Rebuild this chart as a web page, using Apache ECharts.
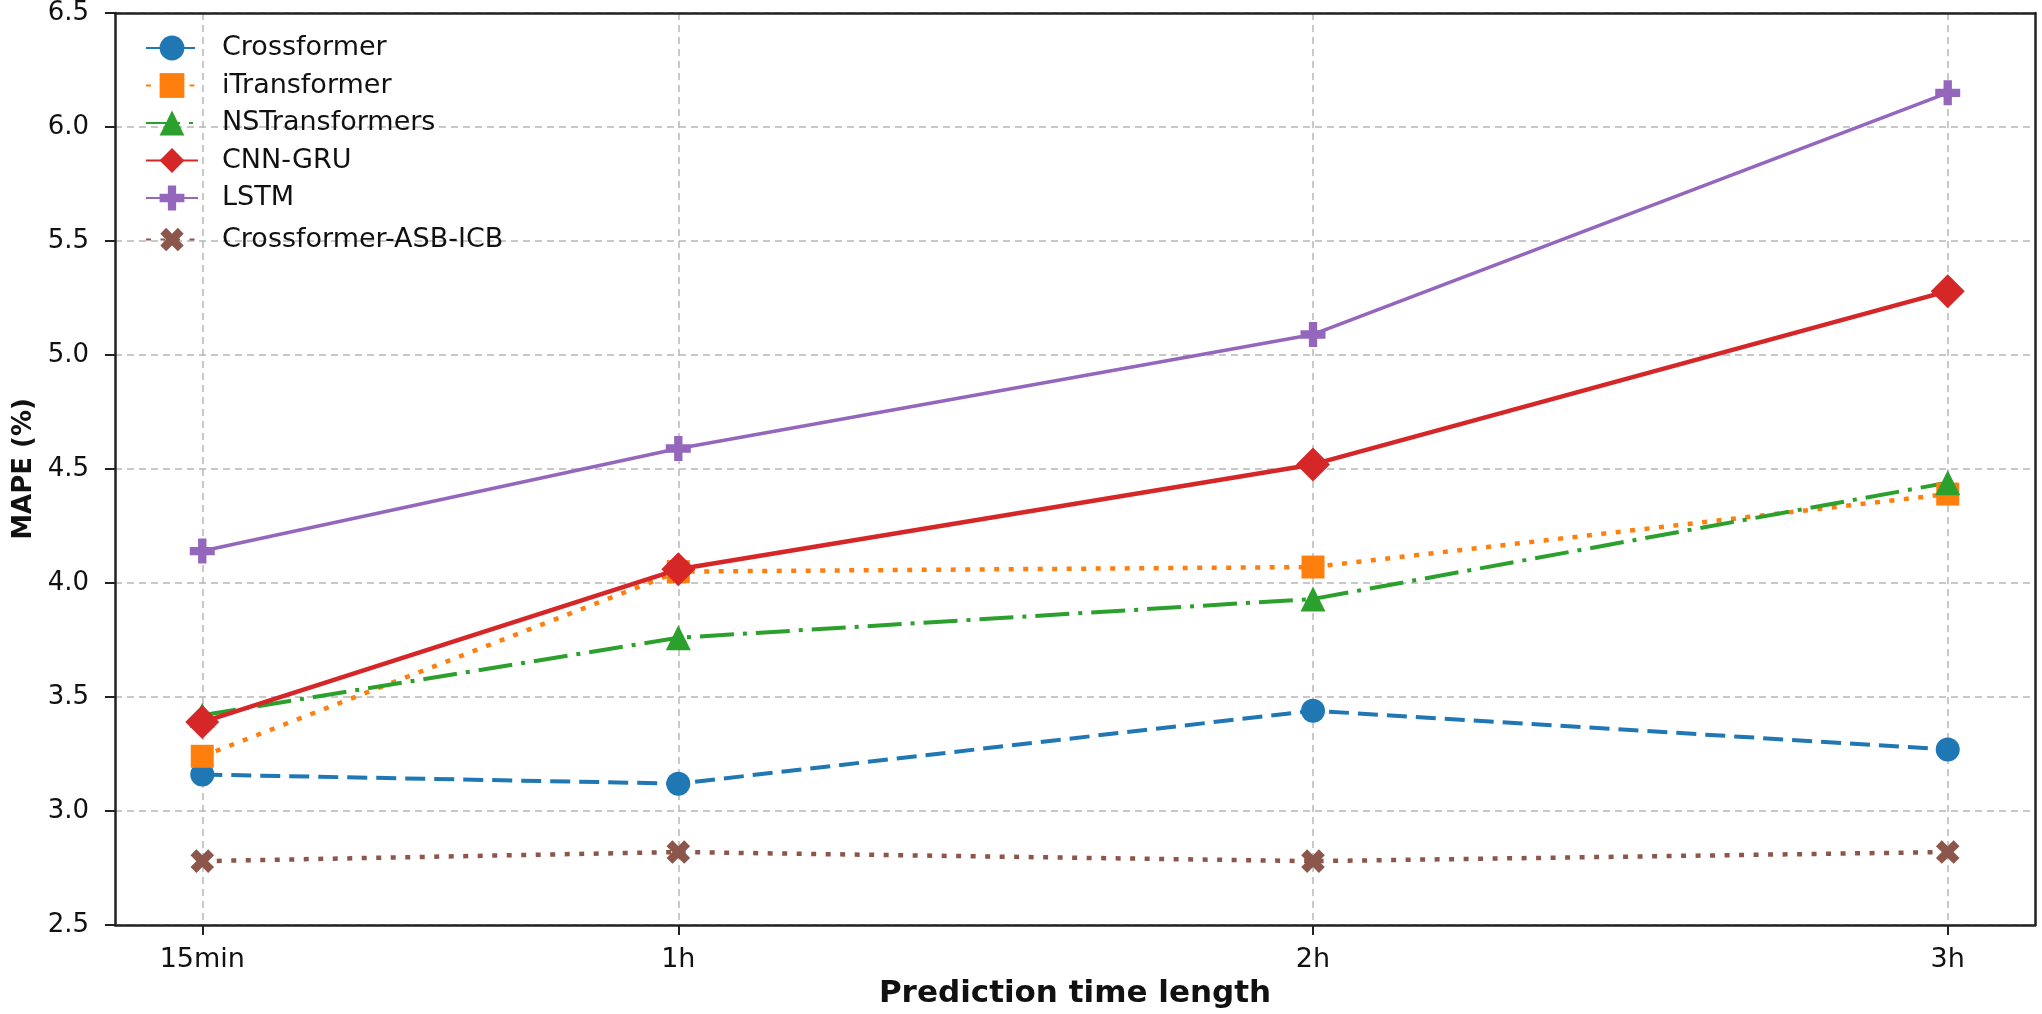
<!DOCTYPE html>
<html>
<head>
<meta charset="utf-8">
<script src="https://cdn.jsdelivr.net/npm/echarts@6/dist/echarts.min.js"></script>
<style>
html,body{margin:0;padding:0;background:#fff;}
#chart{width:2042px;height:1014px;}
</style>
</head>
<body>
<div id="chart"></div>
<script>
// Prediction horizons in hours (15min = 0.25h)
const horizons = [0.25, 1, 2, 3];
const tickLabels = ['15min', '1h', '2h', '3h'];

const crossformer = [3.16, 3.12, 3.44, 3.27];
const iTransformer = [3.24, 4.05, 4.07, 4.39];
const nsTransformers = [3.42, 3.76, 3.93, 4.44];
const cnnGru = [3.39, 4.06, 4.52, 5.28];
const lstm = [4.14, 4.59, 5.09, 6.15];
const crossformerAsbIcb = [2.78, 2.82, 2.78, 2.82];

const FONT = "'DejaVu Sans', 'Noto Sans', sans-serif";
const plusPath = 'path://M-1,-3L1,-3L1,-1L3,-1L3,1L1,1L1,3L-1,3L-1,1L-3,1L-3,-1L-1,-1Z';

function pts(vals) { return horizons.map((h, i) => [h, vals[i]]); }

function mk(name, vals, color, symbol, size, lineType, width, extra) {
  return Object.assign({
    name: name,
    type: 'line',
    data: pts(vals),
    symbol: symbol,
    symbolSize: size,
    showSymbol: true,
    lineStyle: { color: color, width: width, type: lineType, cap: 'butt' },
    itemStyle: { color: color, borderColor: color, borderWidth: 0 },
    emphasis: { disabled: true },
    z: 3
  }, extra || {});
}

const series = [
  mk('Crossformer', crossformer, '#1f77b4', 'circle', 24, [20, 9], 4),
  mk('iTransformer', iTransformer, '#ff7f0e', 'rect', 23, [5, 9.5], 4.5),
  mk('NSTransformers', nsTransformers, '#2ca02c', 'triangle', 25, [34, 9, 4, 9], 4),
  mk('CNN-GRU', cnnGru, '#d62728', 'diamond', 34, 'solid', 4.5),
  mk('LSTM', lstm, '#9467bd', plusPath, 25, 'solid', 3.5),
  mk('Crossformer-ASB-ICB', crossformerAsbIcb, '#8c564b', plusPath, 25, [5, 9.5], 4.5, { symbolRotate: 45 })
];

const frameLine = { show: true, onZero: false, lineStyle: { color: '#222', width: 2.5 } };

const chart = echarts.init(document.getElementById('chart'), null, { renderer: 'canvas' });
chart.setOption({
  animation: false,
  backgroundColor: '#ffffff',
  grid: { left: 115, right: 7, top: 13, bottom: 87, show: false },
  legend: {
    orient: 'vertical',
    left: 140,
    top: 29.5,
    itemWidth: 52,
    itemHeight: 31,
    itemGap: 10.5,
    textStyle: { fontFamily: FONT, fontSize: 27, color: '#111', padding: [0, 0, 0, 19] },
    data: series.map(s => s.name)
  },
  xAxis: [{
    type: 'value',
    min: 0.1125,
    max: 3.1375,
    z: 1,
    name: 'Prediction time length',
    nameLocation: 'middle',
    nameGap: 53,
    nameTextStyle: { fontFamily: FONT, fontSize: 31, fontWeight: 'bold', color: '#111' },
    axisLine: frameLine,
    axisTick: { show: true, length: 10, inside: false, customValues: horizons, lineStyle: { color: '#222', width: 2 } },
    axisLabel: {
      customValues: horizons,
      margin: 21,
      fontFamily: FONT, fontSize: 27, color: '#111',
      formatter: function (v) {
        const idx = horizons.findIndex(h => Math.abs(h - v) < 1e-6);
        return idx >= 0 ? tickLabels[idx] : '';
      }
    },
    splitLine: { show: true, lineStyle: { color: '#b8b8b8', width: 1.5, type: [7, 5] } }
  }, {
    type: 'value',
    position: 'top',
    min: 0.1125,
    max: 3.1375,
    z: 1,
    axisLine: frameLine,
    axisTick: { show: false },
    axisLabel: { show: false },
    splitLine: { show: false }
  }],
  yAxis: [{
    type: 'value',
    min: 2.5,
    max: 6.5,
    interval: 0.5,
    z: 0,
    name: 'MAPE (%)',
    nameLocation: 'middle',
    nameGap: 76,
    nameTextStyle: { fontFamily: FONT, fontSize: 26, fontWeight: 'bold', color: '#111' },
    axisLine: frameLine,
    axisTick: { show: true, length: 10, lineStyle: { color: '#222', width: 2 } },
    axisLabel: {
      margin: 26,
      fontFamily: FONT, fontSize: 26, color: '#111',
      formatter: function (v) { return v.toFixed(1); }
    },
    splitLine: { show: true, lineStyle: { color: '#c8c8c8', width: 1.8, type: [7, 5] } }
  }, {
    type: 'value',
    position: 'right',
    min: 2.5,
    max: 6.5,
    interval: 0.5,
    z: 1,
    axisLine: frameLine,
    axisTick: { show: false },
    axisLabel: { show: false },
    splitLine: { show: false }
  }],
  series: series
});
</script>
</body>
</html>
